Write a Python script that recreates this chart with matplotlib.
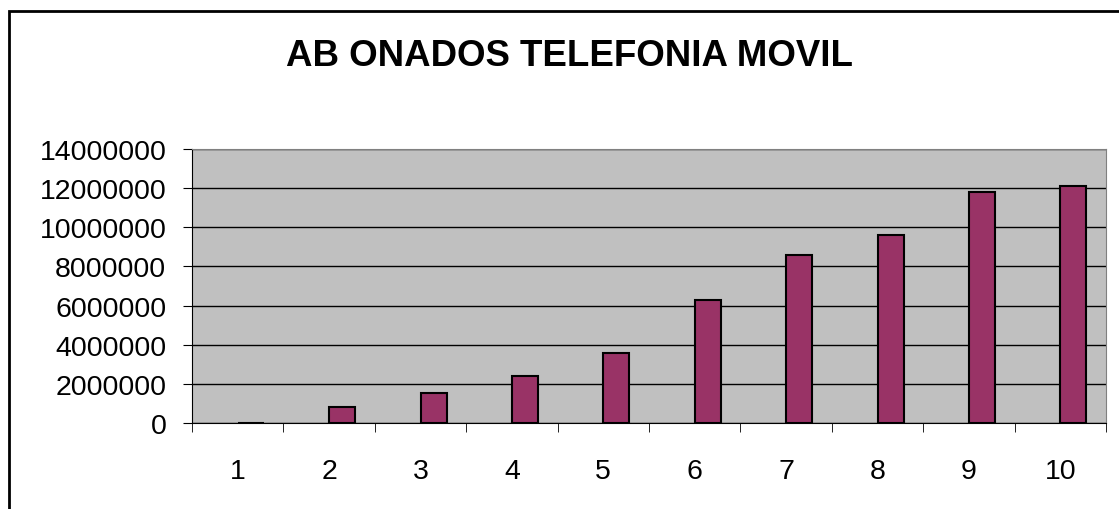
import matplotlib.pyplot as plt
from matplotlib.patches import Rectangle

categorias = ['1', '2', '3', '4', '5', '6', '7', '8', '9', '10']
abonados = [0, 830000, 1530000, 2400000, 3560000, 6300000, 8580000, 9620000, 11790000, 12130000]
yticks = [0, 2000000, 4000000, 6000000, 8000000, 10000000, 12000000, 14000000]

plt.rcParams['font.family'] = ['Liberation Sans', 'DejaVu Sans']

W, H = 1119, 510
fig = plt.figure(figsize=(W / 100, H / 100), dpi=100)
# marco del grafico (se sale por la derecha y abajo)
fig.patches.append(Rectangle((9 / W, -0.1), 1.2, 1 - 12 / H + 0.1, transform=fig.transFigure,
                             fill=False, edgecolor='black', linewidth=2))

ax = fig.add_axes([192 / W, 1 - 424 / H, (1106 - 192) / W, (424 - 150) / H])
ax.set_facecolor('#C0C0C0')
x = list(range(len(categorias)))
ax.bar(x, abonados, width=0.285, align='edge', color='#993366', edgecolor='black',
       linewidth=1.5, zorder=3)
ax.set_xlim(-0.5, len(categorias) - 0.5)
ax.set_ylim(0, 14000000)
ax.set_yticks(yticks)
ax.set_yticklabels([str(v) for v in yticks], fontsize=20.5)
ax.yaxis.grid(True, color='black', linewidth=1, zorder=1)
ax.set_xticks(x)
ax.set_xticklabels(categorias, fontsize=20.5)
ax.tick_params(axis='x', length=0, pad=25)
ax.set_xticks([i - 0.5 for i in range(len(categorias) + 1)], minor=True)
ax.tick_params(axis='x', which='minor', length=6.5, direction='out', color='black')
ax.tick_params(axis='y', length=6.5, direction='out', pad=12)
for s in ['top', 'right']:
    ax.spines[s].set_color('#808080')
for s in ['left', 'bottom']:
    ax.spines[s].set_color('black')

fig.text(570 / W, 1 - 56 / H, 'AB ONADOS TELEFONIA MOVIL', ha='center', va='center',
         fontsize=26.4, fontweight='bold')

fig.savefig('out.png', dpi=100)
